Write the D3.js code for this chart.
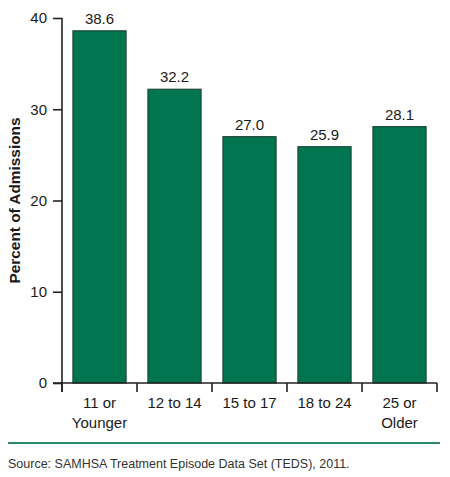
<!DOCTYPE html>
<html>
<head>
<meta charset="utf-8">
<script src="https://cdn.jsdelivr.net/npm/d3@7"></script>
<style>
  body { margin: 0; background: #fff; }
  .narrow { font-family: "Liberation Sans Narrow", "Arial Narrow", "Liberation Sans", sans-serif; }
</style>
</head>
<body>
<div class="vis"></div>
<script>
const categories = [["11 or", "Younger"], ["12 to 14"], ["15 to 17"], ["18 to 24"], ["25 or", "Older"]];
const values = [38.6, 32.2, 27.0, 25.9, 28.1];
const yTicks = [0, 10, 20, 30, 40];

const margin = { top: 18, right: 13, bottom: 94, left: 62 };
const W = 450, H = 477;
const width = W - margin.left - margin.right;
const height = H - margin.top - margin.bottom;

const svg = d3.select(".vis").append("svg")
  .attr("width", W).attr("height", H);

const g = svg.append("g")
  .attr("transform", "translate(" + margin.left + "," + margin.top + ")");

const keys = categories.map((d) => d.join(" "));
const x = d3.scaleBand().domain(keys).range([0, width]).paddingInner(0.29).paddingOuter(0.145);
const y = d3.scaleLinear().domain([0, 40]).range([height, 0]);

// bars
g.selectAll("rect.bar").data(values).enter().append("rect")
  .attr("class", "bar")
  .attr("x", (d, i) => x(keys[i]))
  .attr("y", (d) => y(d))
  .attr("width", x.bandwidth())
  .attr("height", (d) => height - y(d))
  .attr("fill", "#007550")
  .attr("stroke", "#1e3d2f")
  .attr("stroke-width", 1);

// value labels
g.selectAll("text.val").data(values).enter().append("text")
  .attr("class", "narrow")
  .attr("x", (d, i) => x(keys[i]) + x.bandwidth() / 2)
  .attr("y", (d) => y(d) - 7)
  .attr("text-anchor", "middle")
  .attr("font-size", 15)
  .attr("fill", "#1a1a1a")
  .text((d) => d.toFixed(1));

// y axis
const yAxis = g.append("g")
  .call(d3.axisLeft(y).tickValues(yTicks).tickSize(9).tickPadding(6));
yAxis.select(".domain").attr("d", "M0," + (height + 9) + "V0").attr("stroke", "#222").attr("stroke-width", 1.6);
yAxis.selectAll(".tick line").attr("stroke", "#222").attr("stroke-width", 1.6);
yAxis.selectAll(".tick text").attr("class", "narrow").attr("font-size", 15).attr("fill", "#1a1a1a");

// x axis with ticks on band edges
const xAxis = g.append("g").attr("transform", "translate(0," + height + ")");
xAxis.append("line").attr("x1", -9).attr("x2", width).attr("stroke", "#222").attr("stroke-width", 1.6);
const edges = d3.range(keys.length + 1).map((i) => i * x.step());
xAxis.selectAll("line.edge").data(edges).enter().append("line")
  .attr("x1", (d) => d).attr("x2", (d) => d)
  .attr("y1", 0).attr("y2", 9)
  .attr("stroke", "#222").attr("stroke-width", 1.6);

const labels = xAxis.selectAll("text.cat").data(categories).enter().append("text")
  .attr("class", "narrow")
  .attr("text-anchor", "middle")
  .attr("font-size", 15)
  .attr("fill", "#1a1a1a")
  .attr("transform", (d, i) => "translate(" + (x(keys[i]) + x.bandwidth() / 2) + ",25)");
labels.selectAll("tspan").data((d) => d).enter().append("tspan")
  .attr("x", 0)
  .attr("dy", (d, i) => (i === 0 ? 0 : 20))
  .text((d) => d);

// y label
svg.append("text")
  .attr("class", "narrow")
  .attr("transform", "translate(20," + (margin.top + height / 2) + ") rotate(-90)")
  .attr("text-anchor", "middle")
  .attr("font-size", 15)
  .attr("font-weight", "bold")
  .attr("fill", "#1a1a1a")
  .attr("textLength", 166)
  .attr("lengthAdjust", "spacingAndGlyphs")
  .text("Percent of Admissions");

// rule and source
svg.append("line")
  .attr("x1", 8).attr("x2", 440).attr("y1", 443).attr("y2", 443)
  .attr("stroke", "#2a8a66").attr("stroke-width", 2);

svg.append("text")
  .attr("x", 8).attr("y", 468)
  .attr("font-family", "Liberation Sans, Arial, sans-serif")
  .attr("font-size", 12.5)
  .attr("fill", "#333")
  .text("Source: SAMHSA Treatment Episode Data Set (TEDS), 2011.");
</script>
</body>
</html>
